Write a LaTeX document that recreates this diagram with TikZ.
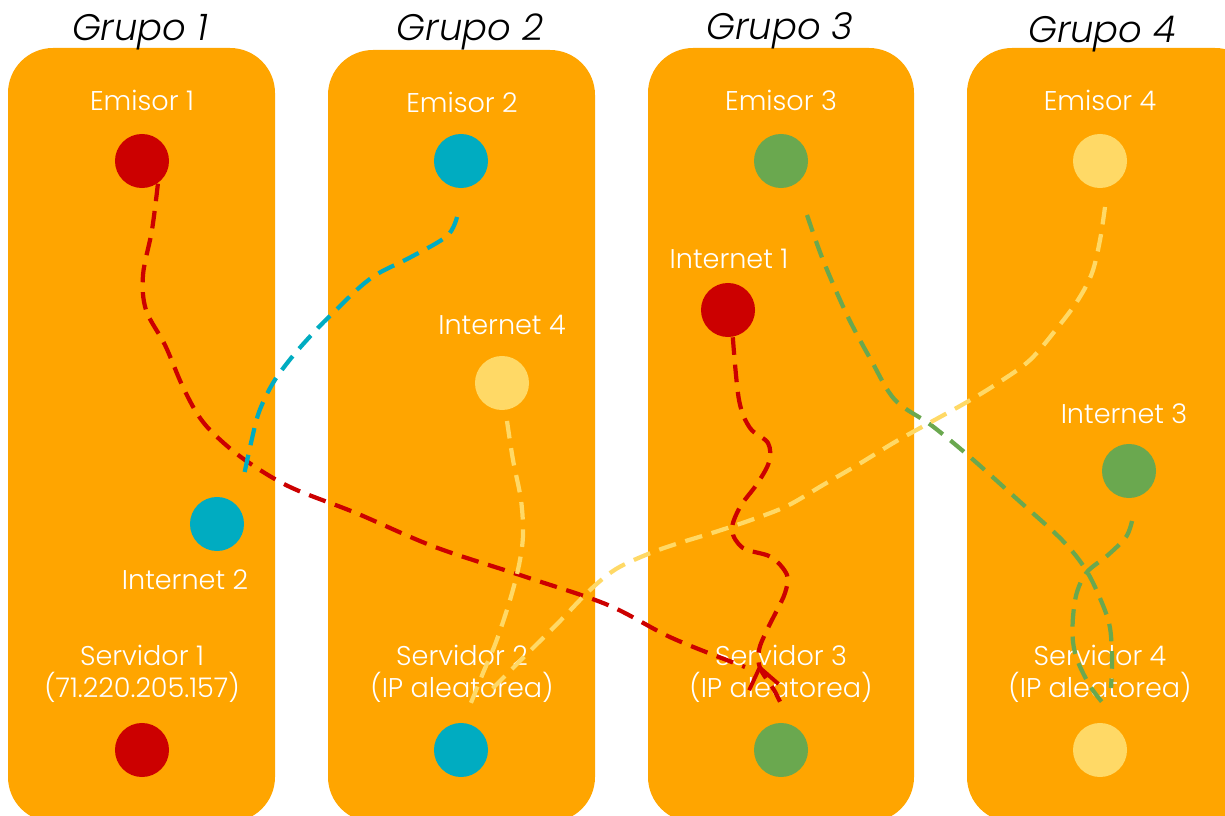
\documentclass[tikz,border=0pt]{standalone}
\usepackage{fontspec}
\setmainfont{Poppins}[UprightFont=* Light, ItalicFont=* Light Italic]
\usetikzlibrary{arrows.meta,decorations.markings}
\definecolor{naranja}{HTML}{FFA500}
\definecolor{rojo}{HTML}{CC0000}
\definecolor{cian}{HTML}{00ACC1}
\definecolor{verde}{HTML}{6AA84F}
\definecolor{amarillo}{HTML}{FFD966}

\begin{document}
\begin{tikzpicture}[x=0.01cm, y=-0.01cm,
    caja/.style={fill=naranja, rounded corners=0.45cm},
    punto/.style={circle, minimum size=0.54cm, inner sep=0pt},
    etiqueta/.style={text=white, font=\fontsize{7.7}{9}\selectfont, align=center},
    titulo/.style={font=\fontsize{10.5}{12}\selectfont\itshape},
    ruta/.style={line width=1.2pt, dash pattern=on 5pt off 2.8pt}]
  \useasboundingbox (0,0) rectangle (1225,816);
  \fill[caja] (8,48) rectangle (275,822);
  \fill[caja] (328,50) rectangle (595,822);
  \fill[caja] (648,48) rectangle (914,822);
  \fill[caja] (967,48) rectangle (1260,822);

  \node (grupo1) [titulo] at (140,32) {Grupo 1};
  \node (grupo2) [titulo] at (470,32) {Grupo 2};
  \node (grupo3) [titulo] at (780,31) {Grupo 3};
  \node (grupo4) [titulo] at (1102,34) {Grupo 4};

  \node (lblemisor1) [etiqueta] at (142,100) {Emisor 1};
  \node (lblemisor2) [etiqueta] at (462,102) {Emisor 2};
  \node (lblemisor3) [etiqueta] at (781,100) {Emisor 3};
  \node (lblemisor4) [etiqueta] at (1100,100) {Emisor 4};
  \node (emisor1) [punto, fill=rojo] at (142,161) {};
  \node (emisor2) [punto, fill=cian] at (461,161) {};
  \node (emisor3) [punto, fill=verde] at (781,161) {};
  \node (emisor4) [punto, fill=amarillo] at (1100,161) {};

  \node (lblinternet1) [etiqueta] at (729,259) {Internet 1};
  \node (lblinternet2) [etiqueta] at (185,580) {Internet 2};
  \node (lblinternet3) [etiqueta] at (1124,414) {Internet 3};
  \node (lblinternet4) [etiqueta] at (502,325) {Internet 4};
  \node (internet1) [punto, fill=rojo] at (728,310) {};
  \node (internet2) [punto, fill=cian] at (217,524) {};
  \node (internet3) [punto, fill=verde] at (1129,471) {};
  \node (internet4) [punto, fill=amarillo] at (502,383) {};

  \node (lblservidor1) [etiqueta] at (142,674) {Servidor 1\\(71.220.205.157)};
  \node (lblservidor2) [etiqueta] at (462,674) {Servidor 2\\(IP aleatorea)};
  \node (lblservidor3) [etiqueta] at (781,674) {Servidor 3\\(IP aleatorea)};
  \node (lblservidor4) [etiqueta] at (1100,674) {Servidor 4\\(IP aleatorea)};
  \node (servidor1) [punto, fill=rojo] at (142,750) {};
  \node (servidor2) [punto, fill=cian] at (461,750) {};
  \node (servidor3) [punto, fill=verde] at (781,750) {};
  \node (servidor4) [punto, fill=amarillo] at (1100,750) {};

  \draw[ruta, rojo] plot[smooth, tension=0.55] coordinates {(emisor1.-55) (152,230) (143,275) (146,310) (165,345) (182,385) (198,415) (215,435) (245,460) (290,487) (356,513) (435,547) (526,577) (608,605) (672,638) ([shift={(-36,-83)}]servidor3.center)};
  \draw[ruta, rojo, postaction={decorate, decoration={markings,
      mark=at position -0.5cm with {\arrowreversed[line width=1.1pt]{Straight Barb[length=2mm, width=3mm]}}}}]
    plot[smooth, tension=0.55] coordinates {(internet1.-80) (739,400) (750,428) (768,443) (769,462) (757,484) (740,507) (732,530) (743,548) (771,557) (787,575) (785,593) (776,612) (766,632) (759,650) (760,668) (774,690) ([shift={(2,-42)}]servidor3.center)};
  \draw[ruta, cian] plot[smooth, tension=0.55] coordinates {([shift={(-4,56)}]emisor2.center) (447,236) (411,257) (379,273) (360,287) (336,310) (316,330) (292,357) (273,383) (259,412) (251,443) ([shift={(26,-44)}]internet2.center)};
  \draw[ruta, verde] plot[smooth, tension=0.55] coordinates {([shift={(26,54)}]emisor3.center) (823,260) (847,315) (871,360) (895,400) (931,425) (970,457) (1018,500) (1062,540) (1086,570) (1102,603) (1110,628) (1112,660) ([shift={(11,-62)}]servidor4.center)};
  \draw[ruta, verde] plot[smooth, tension=0.55] coordinates {([shift={(3,50)}]internet3.center) (1126,537) (1108,555) (1087,572) (1077,592) (1073,617) (1073,642) (1078,662) (1090,686) ([shift={(2,-48)}]servidor4.center)};
  \draw[ruta, amarillo] plot[smooth, tension=0.55] coordinates {([shift={(5,38)}]internet4.center) (513,460) (521,500) (523,535) (519,565) (510,600) (496,642) (483,673) (475,693) ([shift={(9,-45)}]servidor2.center)};
  \draw[ruta, amarillo] plot[smooth, tension=0.55] coordinates {([shift={(5,46)}]emisor4.center) (1100,240) (1092,273) (1078,300) (1058,327) (1030,360) (998,383) (967,402) (931,422) (895,442) (859,464) (823,485) (787,506) (751,520) (712,533) (676,544) (648,554) (616,569) (590,590) (561,620) (538,643) (514,667) (498,683) ([shift={(26,-56)}]servidor2.center)};
\end{tikzpicture}
\end{document}
